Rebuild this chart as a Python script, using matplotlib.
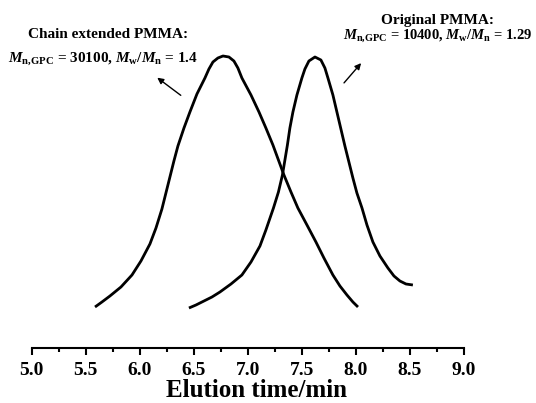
import matplotlib
matplotlib.use("Agg")
import matplotlib.pyplot as plt

# GPC traces (time in min, detector signal in arbitrary units)
t_chain = [5.586, 5.650, 5.724, 5.826, 5.928, 6.011, 6.094, 6.150, 6.205, 6.242,
           6.279, 6.316, 6.353, 6.409, 6.464, 6.529, 6.603, 6.640, 6.677, 6.723,
           6.770, 6.825, 6.871, 6.908, 6.945, 7.029, 7.103, 7.167, 7.232, 7.283,
           7.334, 7.399, 7.463, 7.547, 7.630, 7.704, 7.787, 7.852, 7.917, 7.972, 8.019]
s_chain = [42, 47, 53, 62, 74, 88, 105, 121, 140, 156,
           172, 188, 203, 221, 237, 255, 271, 280, 287, 291,
           293, 292, 288, 281, 271, 254, 237, 221, 204, 189,
           174, 157, 141, 124, 107, 91, 74, 63, 54, 47, 42]

t_orig = [6.455, 6.520, 6.594, 6.668, 6.742, 6.844, 6.945, 7.029, 7.112, 7.167,
          7.237, 7.283, 7.320, 7.343, 7.366, 7.389, 7.417, 7.454, 7.500, 7.528,
          7.565, 7.621, 7.676, 7.713, 7.741, 7.787, 7.824, 7.861, 7.898, 7.935,
          7.972, 8.009, 8.056, 8.102, 8.157, 8.222, 8.296, 8.352, 8.407, 8.463, 8.527]
s_orig = [41, 44, 48, 52, 57, 65, 74, 87, 103, 119,
          141, 157, 174, 189, 204, 221, 237, 254, 271, 280,
          288, 292, 289, 281, 271, 254, 237, 220, 203, 187,
          171, 156, 141, 124, 107, 93, 81, 73, 68, 65, 64]

xticks = [5.0, 5.5, 6.0, 6.5, 7.0, 7.5, 8.0, 8.5, 9.0]

plt.rcParams['font.family'] = 'Liberation Serif'
plt.rcParams['font.weight'] = 'bold'
plt.rcParams['mathtext.fontset'] = 'custom'
plt.rcParams['mathtext.rm'] = 'Liberation Serif:bold'
plt.rcParams['mathtext.it'] = 'Liberation Serif:bold:italic'
plt.rcParams['mathtext.bf'] = 'Liberation Serif:bold'

fig = plt.figure(figsize=(5.36, 4.03), dpi=100)
ax = fig.add_axes([0.0591, 55 / 403, 0.8066, 348 / 403])

ax.plot(t_chain, s_chain, color='black', lw=2.0, solid_joinstyle='round', solid_capstyle='butt')
ax.plot(t_orig, s_orig, color='black', lw=2.0, solid_joinstyle='round', solid_capstyle='butt')

ax.set_xlim(5.0, 9.0)
ax.set_ylim(1, 349)
for side in ['top', 'right', 'left']:
    ax.spines[side].set_visible(False)
ax.spines['bottom'].set_linewidth(1.5)
ax.set_yticks([])
ax.set_xticks(xticks)
ax.set_xticklabels(['%.1f' % v for v in xticks])
ax.set_xticks([5.25, 5.75, 6.25, 6.75, 7.25, 7.75, 8.25, 8.75], minor=True)
ax.tick_params(axis='x', which='major', direction='out', length=5, width=1.5,
               labelsize=14, pad=5)
ax.tick_params(axis='x', which='minor', direction='out', length=3, width=1.5)
ax.set_xlabel('Elution time/min', fontsize=18, fontweight='bold', labelpad=0)
ax.xaxis.label.set_x(0.521)

# labels and arrows
ax.text(5.706, 311, 'Chain extended PMMA:', ha='center', va='baseline', fontsize=11)
ax.text(5.664, 287, r'$M_{\mathrm{n{,}GPC}}$ = 30100, $M_{\mathrm{w}}/M_{\mathrm{n}}$ = 1.4',
        ha='center', va='baseline', fontsize=11)
ax.text(8.753, 325, 'Original PMMA:', ha='center', va='baseline', fontsize=11)
ax.text(8.758, 310, r'$M_{\mathrm{n{,}GPC}}$ = 10400, $M_{\mathrm{w}}/M_{\mathrm{n}}$ = 1.29',
        ha='center', va='baseline', fontsize=10.5)

ax.annotate('', xy=(6.141, 273), xytext=(6.400, 252),
            arrowprops=dict(arrowstyle='-|>', lw=1, color='black', mutation_scale=9))
ax.annotate('', xy=(8.065, 288), xytext=(7.873, 264),
            arrowprops=dict(arrowstyle='-|>', lw=1, color='black', mutation_scale=9))

fig.savefig('out.png', dpi=100)
